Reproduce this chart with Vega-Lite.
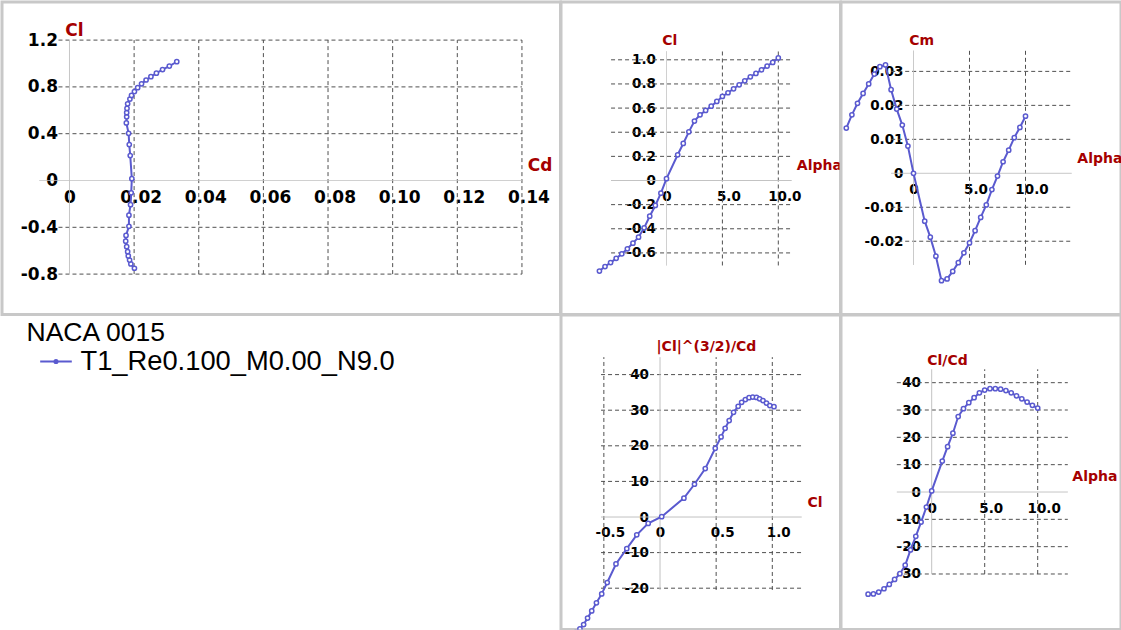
{
  "$schema": "https://vega.github.io/schema/vega-lite/v6.json",
  "background": "white",
  "padding": 0,
  "autosize": {"type": "pad"},
  "bounds": "flush",
  "spacing": 0,
  "columns": 3,
  "datasets": {
    "polar": [
      {"alpha": -6, "Cl": -0.75, "Cd": 0.0201, "Cm": 0.0133, "ClCd": -37.4, "Cl32Cd": -32.4, "polar": "T1_Re0.100_M0.00_N9.0"},
      {"alpha": -5.5, "Cl": -0.713, "Cd": 0.019, "Cm": 0.0172, "ClCd": -37.3, "Cl32Cd": -31.4, "polar": "T1_Re0.100_M0.00_N9.0"},
      {"alpha": -5, "Cl": -0.68, "Cd": 0.0186, "Cm": 0.0206, "ClCd": -36.6, "Cl32Cd": -30.2, "polar": "T1_Re0.100_M0.00_N9.0"},
      {"alpha": -4.5, "Cl": -0.645, "Cd": 0.0182, "Cm": 0.0235, "ClCd": -35.4, "Cl32Cd": -28.4, "polar": "T1_Re0.100_M0.00_N9.0"},
      {"alpha": -4, "Cl": -0.608, "Cd": 0.018, "Cm": 0.0263, "ClCd": -33.8, "Cl32Cd": -26.4, "polar": "T1_Re0.100_M0.00_N9.0"},
      {"alpha": -3.5, "Cl": -0.566, "Cd": 0.0177, "Cm": 0.0292, "ClCd": -32.0, "Cl32Cd": -24.1, "polar": "T1_Re0.100_M0.00_N9.0"},
      {"alpha": -3, "Cl": -0.519, "Cd": 0.0174, "Cm": 0.0314, "ClCd": -29.9, "Cl32Cd": -21.6, "polar": "T1_Re0.100_M0.00_N9.0"},
      {"alpha": -2.5, "Cl": -0.47, "Cd": 0.0175, "Cm": 0.0319, "ClCd": -26.8, "Cl32Cd": -18.4, "polar": "T1_Re0.100_M0.00_N9.0"},
      {"alpha": -2, "Cl": -0.392, "Cd": 0.0184, "Cm": 0.0246, "ClCd": -21.2, "Cl32Cd": -13.2, "polar": "T1_Re0.100_M0.00_N9.0"},
      {"alpha": -1.5, "Cl": -0.296, "Cd": 0.0184, "Cm": 0.0189, "ClCd": -16.2, "Cl32Cd": -8.9, "polar": "T1_Re0.100_M0.00_N9.0"},
      {"alpha": -1, "Cl": -0.207, "Cd": 0.0189, "Cm": 0.0142, "ClCd": -11.0, "Cl32Cd": -5.0, "polar": "T1_Re0.100_M0.00_N9.0"},
      {"alpha": -0.5, "Cl": -0.105, "Cd": 0.0191, "Cm": 0.008, "ClCd": -5.5, "Cl32Cd": -1.8, "polar": "T1_Re0.100_M0.00_N9.0"},
      {"alpha": 0, "Cl": 0.015, "Cd": 0.0193, "Cm": 0.0, "ClCd": 0.4, "Cl32Cd": 0.1, "polar": "T1_Re0.100_M0.00_N9.0"},
      {"alpha": 1, "Cl": 0.213, "Cd": 0.0188, "Cm": -0.0141, "ClCd": 11.3, "Cl32Cd": 5.3, "polar": "T1_Re0.100_M0.00_N9.0"},
      {"alpha": 1.5, "Cl": 0.307, "Cd": 0.0185, "Cm": -0.0188, "ClCd": 16.6, "Cl32Cd": 9.2, "polar": "T1_Re0.100_M0.00_N9.0"},
      {"alpha": 2, "Cl": 0.403, "Cd": 0.0183, "Cm": -0.0244, "ClCd": 21.5, "Cl32Cd": 13.6, "polar": "T1_Re0.100_M0.00_N9.0"},
      {"alpha": 2.5, "Cl": 0.492, "Cd": 0.0176, "Cm": -0.0316, "ClCd": 27.6, "Cl32Cd": 19.3, "polar": "T1_Re0.100_M0.00_N9.0"},
      {"alpha": 3, "Cl": 0.544, "Cd": 0.0177, "Cm": -0.0311, "ClCd": 30.5, "Cl32Cd": 22.5, "polar": "T1_Re0.100_M0.00_N9.0"},
      {"alpha": 3.5, "Cl": 0.58, "Cd": 0.0177, "Cm": -0.0289, "ClCd": 32.7, "Cl32Cd": 24.9, "polar": "T1_Re0.100_M0.00_N9.0"},
      {"alpha": 4, "Cl": 0.616, "Cd": 0.0178, "Cm": -0.0263, "ClCd": 34.5, "Cl32Cd": 27.1, "polar": "T1_Re0.100_M0.00_N9.0"},
      {"alpha": 4.5, "Cl": 0.655, "Cd": 0.018, "Cm": -0.0234, "ClCd": 36.3, "Cl32Cd": 29.4, "polar": "T1_Re0.100_M0.00_N9.0"},
      {"alpha": 5, "Cl": 0.696, "Cd": 0.0187, "Cm": -0.0205, "ClCd": 37.3, "Cl32Cd": 31.1, "polar": "T1_Re0.100_M0.00_N9.0"},
      {"alpha": 5.5, "Cl": 0.727, "Cd": 0.0192, "Cm": -0.0169, "ClCd": 37.8, "Cl32Cd": 32.2, "polar": "T1_Re0.100_M0.00_N9.0"},
      {"alpha": 6, "Cl": 0.76, "Cd": 0.0201, "Cm": -0.013, "ClCd": 37.8, "Cl32Cd": 33.0, "polar": "T1_Re0.100_M0.00_N9.0"},
      {"alpha": 6.5, "Cl": 0.793, "Cd": 0.0211, "Cm": -0.0093, "ClCd": 37.6, "Cl32Cd": 33.5, "polar": "T1_Re0.100_M0.00_N9.0"},
      {"alpha": 7, "Cl": 0.826, "Cd": 0.0223, "Cm": -0.0048, "ClCd": 37.1, "Cl32Cd": 33.7, "polar": "T1_Re0.100_M0.00_N9.0"},
      {"alpha": 7.5, "Cl": 0.859, "Cd": 0.0237, "Cm": -0.0008, "ClCd": 36.3, "Cl32Cd": 33.6, "polar": "T1_Re0.100_M0.00_N9.0"},
      {"alpha": 8, "Cl": 0.887, "Cd": 0.0252, "Cm": 0.0034, "ClCd": 35.2, "Cl32Cd": 33.2, "polar": "T1_Re0.100_M0.00_N9.0"},
      {"alpha": 8.5, "Cl": 0.917, "Cd": 0.0269, "Cm": 0.0068, "ClCd": 34.1, "Cl32Cd": 32.7, "polar": "T1_Re0.100_M0.00_N9.0"},
      {"alpha": 9, "Cl": 0.948, "Cd": 0.0288, "Cm": 0.0105, "ClCd": 32.9, "Cl32Cd": 32.0, "polar": "T1_Re0.100_M0.00_N9.0"},
      {"alpha": 9.5, "Cl": 0.978, "Cd": 0.0309, "Cm": 0.0135, "ClCd": 31.7, "Cl32Cd": 31.3, "polar": "T1_Re0.100_M0.00_N9.0"},
      {"alpha": 10, "Cl": 1.015, "Cd": 0.0332, "Cm": 0.0168, "ClCd": 30.7, "Cl32Cd": 31.0, "polar": "T1_Re0.100_M0.00_N9.0"}
    ],
    "g1": [
      {"x1": 0.02, "x2": 0.02, "y1": -0.8, "y2": 1.2, "kind": "grid"},
      {"x1": 0.04, "x2": 0.04, "y1": -0.8, "y2": 1.2, "kind": "grid"},
      {"x1": 0.06, "x2": 0.06, "y1": -0.8, "y2": 1.2, "kind": "grid"},
      {"x1": 0.08, "x2": 0.08, "y1": -0.8, "y2": 1.2, "kind": "grid"},
      {"x1": 0.10, "x2": 0.10, "y1": -0.8, "y2": 1.2, "kind": "grid"},
      {"x1": 0.12, "x2": 0.12, "y1": -0.8, "y2": 1.2, "kind": "grid"},
      {"x1": 0.14, "x2": 0.14, "y1": -0.8, "y2": 1.2, "kind": "grid"},
      {"x1": -0.0034, "x2": 0.14, "y1": -0.8, "y2": -0.8, "kind": "grid"},
      {"x1": -0.0034, "x2": 0.14, "y1": -0.4, "y2": -0.4, "kind": "grid"},
      {"x1": -0.0034, "x2": 0.14, "y1": 0.4, "y2": 0.4, "kind": "grid"},
      {"x1": -0.0034, "x2": 0.14, "y1": 0.8, "y2": 0.8, "kind": "grid"},
      {"x1": -0.0034, "x2": 0.14, "y1": 1.2, "y2": 1.2, "kind": "grid"},
      {"x1": 0, "x2": 0, "y1": -0.8, "y2": 1.2, "kind": "axis"},
      {"x1": -0.0093, "x2": 0.14, "y1": 0, "y2": 0, "kind": "axis"}
    ],
    "g2": [
      {"x1": 5, "x2": 5, "y1": -0.704, "y2": 1.071, "kind": "grid"},
      {"x1": 10, "x2": 10, "y1": -0.704, "y2": 1.071, "kind": "grid"},
      {"x1": -4.96, "x2": 11.2, "y1": -0.6, "y2": -0.6, "kind": "grid"},
      {"x1": -4.96, "x2": 11.2, "y1": -0.4, "y2": -0.4, "kind": "grid"},
      {"x1": -4.96, "x2": 11.2, "y1": -0.2, "y2": -0.2, "kind": "grid"},
      {"x1": -4.96, "x2": 11.2, "y1": 0.2, "y2": 0.2, "kind": "grid"},
      {"x1": -4.96, "x2": 11.2, "y1": 0.4, "y2": 0.4, "kind": "grid"},
      {"x1": -4.96, "x2": 11.2, "y1": 0.6, "y2": 0.6, "kind": "grid"},
      {"x1": -4.96, "x2": 11.2, "y1": 0.8, "y2": 0.8, "kind": "grid"},
      {"x1": -4.96, "x2": 11.2, "y1": 1.0, "y2": 1.0, "kind": "grid"},
      {"x1": 0, "x2": 0, "y1": -0.704, "y2": 1.071, "kind": "axis"},
      {"x1": -4.96, "x2": 11.2, "y1": 0, "y2": 0, "kind": "axis"}
    ],
    "g3": [
      {"x1": 5, "x2": 5, "y1": -0.02694, "y2": 0.03615, "kind": "grid"},
      {"x1": 10, "x2": 10, "y1": -0.02694, "y2": 0.03615, "kind": "grid"},
      {"x1": -1.99, "x2": 14.13, "y1": -0.02, "y2": -0.02, "kind": "grid"},
      {"x1": -1.99, "x2": 14.13, "y1": -0.01, "y2": -0.01, "kind": "grid"},
      {"x1": -1.99, "x2": 14.13, "y1": 0.01, "y2": 0.01, "kind": "grid"},
      {"x1": -1.99, "x2": 14.13, "y1": 0.02, "y2": 0.02, "kind": "grid"},
      {"x1": -1.99, "x2": 14.13, "y1": 0.03, "y2": 0.03, "kind": "grid"},
      {"x1": 0, "x2": 0, "y1": -0.02694, "y2": 0.03615, "kind": "axis"},
      {"x1": -1.99, "x2": 14.13, "y1": 0, "y2": 0, "kind": "axis"}
    ],
    "g4": [
      {"x1": -0.5, "x2": -0.5, "y1": -20.5, "y2": 44.9, "kind": "grid"},
      {"x1": 0.5, "x2": 0.5, "y1": -20.5, "y2": 44.9, "kind": "grid"},
      {"x1": 1.0, "x2": 1.0, "y1": -20.5, "y2": 44.9, "kind": "grid"},
      {"x1": -0.525, "x2": 1.262, "y1": -20, "y2": -20, "kind": "grid"},
      {"x1": -0.525, "x2": 1.262, "y1": -10, "y2": -10, "kind": "grid"},
      {"x1": -0.525, "x2": 1.262, "y1": 10, "y2": 10, "kind": "grid"},
      {"x1": -0.525, "x2": 1.262, "y1": 20, "y2": 20, "kind": "grid"},
      {"x1": -0.525, "x2": 1.262, "y1": 30, "y2": 30, "kind": "grid"},
      {"x1": -0.525, "x2": 1.262, "y1": 40, "y2": 40, "kind": "grid"},
      {"x1": 0, "x2": 0, "y1": -20.5, "y2": 44.9, "kind": "axis"},
      {"x1": -0.525, "x2": 1.262, "y1": 0, "y2": 0, "kind": "axis"}
    ],
    "g5": [
      {"x1": 5, "x2": 5, "y1": -30, "y2": 44.9, "kind": "grid"},
      {"x1": 10, "x2": 10, "y1": -30, "y2": 44.9, "kind": "grid"},
      {"x1": -3.29, "x2": 12.84, "y1": -30, "y2": -30, "kind": "grid"},
      {"x1": -3.29, "x2": 12.84, "y1": -20, "y2": -20, "kind": "grid"},
      {"x1": -3.29, "x2": 12.84, "y1": -10, "y2": -10, "kind": "grid"},
      {"x1": -3.29, "x2": 12.84, "y1": 10, "y2": 10, "kind": "grid"},
      {"x1": -3.29, "x2": 12.84, "y1": 20, "y2": 20, "kind": "grid"},
      {"x1": -3.29, "x2": 12.84, "y1": 30, "y2": 30, "kind": "grid"},
      {"x1": -3.29, "x2": 12.84, "y1": 40, "y2": 40, "kind": "grid"},
      {"x1": 0, "x2": 0, "y1": -30, "y2": 44.9, "kind": "axis"},
      {"x1": -3.29, "x2": 12.84, "y1": 0, "y2": 0, "kind": "axis"}
    ]
  },
  "concat": [
    {
      "width": 558.5,
      "height": 312.5,
      "view": {"stroke": "#c8c8c8", "strokeWidth": 3},
      "layer": [
        {
          "data": {"name": "g1"},
          "mark": {"type": "rule", "strokeWidth": 1},
          "encoding": {
            "x": {"field": "x1", "type": "quantitative", "scale": {"domain": [-0.020876, 0.151928], "nice": false, "zero": false},
              "axis": {"values": [0, 0.02, 0.04, 0.06, 0.08, 0.1, 0.12, 0.14], "labelOverlap": false, "labelExpr": "datum.value === 0 ? '0' : format(datum.value, '.2f')", "offset": -134, "labelFontSize": 17, "labelAlign": "center", "labelBaseline": "middle", "labelPadding": 16.7, "labelOffset": {"condition": {"test": "datum.value === 0", "value": 0}, "value": 6.5}, "title": "Cd", "titleFontSize": 17, "titleAngle": 0, "titleAlign": "left", "titleBaseline": "alphabetic", "titleX": 525.3, "titleY": -10}},
            "x2": {"field": "x2"},
            "y": {"field": "y1", "type": "quantitative", "scale": {"domain": [-1.145299, 1.525641], "nice": false, "zero": false},
              "axis": {"values": [-0.8, -0.4, 0, 0.4, 0.8, 1.2], "labelOverlap": false, "labelExpr": "datum.value === 0 ? '0' : (datum.value < 0 ? '-' : '') + format(abs(datum.value), '.1f')", "offset": -67.47, "labelFontSize": 17, "labelAlign": "right", "labelBaseline": "middle", "labelPadding": 12, "title": "Cl", "titleFontSize": 17, "titleAngle": 0, "titleAlign": "left", "titleBaseline": "alphabetic", "titleX": -4.7, "titleY": 33.5}},
            "y2": {"field": "y2"},
            "stroke": {"condition": {"test": "datum.kind === 'axis'", "value": "#c0c0c0"}, "value": "#505050"},
            "strokeDash": {"condition": {"test": "datum.kind === 'axis'", "value": [1, 0]}, "value": [4, 3]}
          }
        },
        {
          "data": {"name": "polar"},
          "mark": {"type": "line", "strokeWidth": 2},
          "encoding": {
            "x": {"field": "Cd", "type": "quantitative", "scale": {"domain": [-0.020876, 0.151928], "nice": false, "zero": false}},
            "y": {"field": "Cl", "type": "quantitative", "scale": {"domain": [-1.145299, 1.525641], "nice": false, "zero": false}},
            "order": {"field": "alpha", "type": "quantitative"},
            "color": {"field": "polar", "type": "nominal", "scale": {"range": ["#5a5acf"]},
              "legend": {"title": "NACA 0015", "orient": "none", "legendX": 24.5, "legendY": 318, "titleFont": "Liberation Sans", "titleFontSize": 26.5, "titleFontWeight": "normal", "titleColor": "#000000", "titlePadding": -2, "labelFont": "Liberation Sans", "labelFontSize": 27.3, "labelColor": "#000000", "labelLimit": 1000, "symbolType": "M-1,0L1,0M-0.1,0A0.1,0.1,0,1,1,0.1,0A0.1,0.1,0,1,1,-0.1,0", "symbolSize": 1000, "symbolStrokeWidth": 2, "symbolOffset": 12.5, "labelOffset": 7.5}}
          }
        },
        {
          "data": {"name": "polar"},
          "mark": {"type": "point", "shape": "circle", "filled": true, "fill": "white", "stroke": "#5a5acf", "strokeWidth": 1.5, "size": 18, "opacity": 1},
          "encoding": {
            "x": {"field": "Cd", "type": "quantitative", "scale": {"domain": [-0.020876, 0.151928], "nice": false, "zero": false}},
            "y": {"field": "Cl", "type": "quantitative", "scale": {"domain": [-1.145299, 1.525641], "nice": false, "zero": false}}
          }
        }
      ]
    },
    {
      "width": 279.5,
      "height": 312.5,
      "view": {"stroke": "#c8c8c8", "strokeWidth": 3},
      "resolve": {"axis": {"y": "independent"}},
      "layer": [
        {
          "data": {"name": "g2"},
          "mark": {"type": "rule", "strokeWidth": 1},
          "encoding": {
            "x": {"field": "x1", "type": "quantitative", "scale": {"domain": [-9.43649, 15.56351], "nice": false, "zero": false},
              "axis": {"values": [0, 5, 10], "labelOverlap": false, "labelExpr": "datum.value === 0 ? '0' : format(datum.value, '.1f')", "offset": -134, "labelAlign": "center", "labelBaseline": "middle", "labelPadding": 16, "labelOffset": {"condition": {"test": "datum.value === 0", "value": 0}, "value": 6}, "title": "Alpha", "titleAngle": 0, "titleAlign": "left", "titleBaseline": "alphabetic", "titleX": 235.3, "titleY": -11}},
            "x2": {"field": "x2"},
            "y": {"field": "y1", "type": "quantitative", "scale": {"domain": [-1.110191, 1.478873], "nice": false, "zero": false},
              "axis": {"orient": "left", "values": [-0.6, -0.2, 0.2, 0.6, 1.0], "labelOverlap": false, "labelExpr": "(datum.value < 0 ? '-' : '') + format(abs(datum.value), '.1f')", "offset": -105.5, "labelAlign": "right", "labelBaseline": "middle", "labelPadding": 11, "title": "Cl", "titleAngle": 0, "titleAlign": "left", "titleBaseline": "alphabetic", "titleX": -4.8, "titleY": 42.8}},
            "y2": {"field": "y2"},
            "stroke": {"condition": {"test": "datum.kind === 'axis'", "value": "#c0c0c0"}, "value": "#505050"},
            "strokeDash": {"condition": {"test": "datum.kind === 'axis'", "value": [1, 0]}, "value": [4, 3]}
          }
        },
        {
          "data": {"name": "polar"},
          "mark": {"type": "line", "strokeWidth": 2, "color": "#5a5acf"},
          "encoding": {
            "x": {"field": "alpha", "type": "quantitative", "scale": {"domain": [-9.43649, 15.56351], "nice": false, "zero": false}},
            "y": {"field": "Cl", "type": "quantitative", "scale": {"domain": [-1.110191, 1.478873], "nice": false, "zero": false},
              "axis": {"orient": "left", "values": [-0.4, 0, 0.4, 0.8], "labelOverlap": false, "labelExpr": "datum.value === 0 ? '0' : (datum.value < 0 ? '-' : '') + format(abs(datum.value), '.1f')", "offset": -105.5, "labelAlign": "right", "labelBaseline": "middle", "labelPadding": 11, "title": null}},
            "order": {"field": "alpha", "type": "quantitative"}
          }
        },
        {
          "data": {"name": "polar"},
          "mark": {"type": "point", "shape": "circle", "filled": true, "fill": "white", "stroke": "#5a5acf", "strokeWidth": 1.5, "size": 18, "opacity": 1},
          "encoding": {
            "x": {"field": "alpha", "type": "quantitative", "scale": {"domain": [-9.43649, 15.56351], "nice": false, "zero": false}},
            "y": {"field": "Cl", "type": "quantitative", "scale": {"domain": [-1.110191, 1.478873], "nice": false, "zero": false}, "axis": null}
          }
        }
      ]
    },
    {
      "width": 280,
      "height": 312.5,
      "view": {"stroke": "#c8c8c8", "strokeWidth": 3},
      "layer": [
        {
          "data": {"name": "g3"},
          "mark": {"type": "rule", "strokeWidth": 1},
          "encoding": {
            "x": {"field": "x1", "type": "quantitative", "scale": {"domain": [-6.47321, 18.52679], "nice": false, "zero": false},
              "axis": {"values": [0, 5, 10], "labelOverlap": false, "labelExpr": "datum.value === 0 ? '0' : format(datum.value, '.1f')", "offset": -141.2, "labelAlign": "center", "labelBaseline": "middle", "labelPadding": 16, "labelOffset": {"condition": {"test": "datum.value === 0", "value": 0}, "value": 6}, "title": "Alpha", "titleAngle": 0, "titleAlign": "left", "titleBaseline": "alphabetic", "titleX": 235.8, "titleY": -11}},
            "x2": {"field": "x2"},
            "y": {"field": "y1", "type": "quantitative", "scale": {"domain": [-0.041566, 0.050427], "nice": false, "zero": false},
              "axis": {"values": [-0.02, -0.01, 0, 0.01, 0.02, 0.03], "labelOverlap": false, "labelExpr": "datum.value === 0 ? '0' : (datum.value < 0 ? '-' : '') + format(abs(datum.value), '.2f')", "offset": -72.5, "labelAlign": "right", "labelBaseline": "middle", "labelPadding": 10.5, "title": "Cm", "titleAngle": 0, "titleAlign": "left", "titleBaseline": "alphabetic", "titleX": -4.7, "titleY": 42.8}},
            "y2": {"field": "y2"},
            "stroke": {"condition": {"test": "datum.kind === 'axis'", "value": "#c0c0c0"}, "value": "#505050"},
            "strokeDash": {"condition": {"test": "datum.kind === 'axis'", "value": [1, 0]}, "value": [4, 3]}
          }
        },
        {
          "data": {"name": "polar"},
          "mark": {"type": "line", "strokeWidth": 2, "color": "#5a5acf"},
          "encoding": {
            "x": {"field": "alpha", "type": "quantitative", "scale": {"domain": [-6.47321, 18.52679], "nice": false, "zero": false}},
            "y": {"field": "Cm", "type": "quantitative", "scale": {"domain": [-0.041566, 0.050427], "nice": false, "zero": false}},
            "order": {"field": "alpha", "type": "quantitative"}
          }
        },
        {
          "data": {"name": "polar"},
          "mark": {"type": "point", "shape": "circle", "filled": true, "fill": "white", "stroke": "#5a5acf", "strokeWidth": 1.5, "size": 18, "opacity": 1},
          "encoding": {
            "x": {"field": "alpha", "type": "quantitative", "scale": {"domain": [-6.47321, 18.52679], "nice": false, "zero": false}},
            "y": {"field": "Cm", "type": "quantitative", "scale": {"domain": [-0.041566, 0.050427], "nice": false, "zero": false}}
          }
        }
      ]
    },
    {
      "width": 558.5,
      "height": 314.5,
      "view": {"stroke": null},
      "data": {"values": []},
      "mark": "point"
    },
    {
      "width": 279.5,
      "height": 314.5,
      "view": {"stroke": "#c8c8c8", "strokeWidth": 3},
      "layer": [
        {
          "data": {"name": "g4"},
          "mark": {"type": "rule", "strokeWidth": 1},
          "encoding": {
            "x": {"field": "x1", "type": "quantitative", "scale": {"domain": [-0.881567, 1.607302], "nice": false, "zero": false},
              "axis": {"values": [-0.5, 0, 0.5, 1.0], "labelOverlap": false, "labelExpr": "datum.value === 0 ? '0' : (datum.value < 0 ? '-' : '') + format(abs(datum.value), '.1f')", "offset": -112.5, "labelAlign": "center", "labelBaseline": "middle", "labelPadding": 15.3, "labelOffset": {"condition": {"test": "datum.value === 0", "value": 0}, "value": 6}, "title": "Cl", "titleAngle": 0, "titleAlign": "left", "titleBaseline": "alphabetic", "titleX": 246, "titleY": -10.3}},
            "x2": {"field": "x2"},
            "y": {"field": "y1", "type": "quantitative", "scale": {"domain": [-31.6011, 56.7416], "nice": false, "zero": false},
              "axis": {"values": [-20, -10, 0, 10, 20, 30, 40], "labelOverlap": false, "labelExpr": "datum.value === 0 ? '0' : (datum.value < 0 ? '-' : '') + format(abs(datum.value), 'd')", "offset": -99, "labelAlign": "right", "labelBaseline": "middle", "labelPadding": 11.5, "title": "|Cl|^(3/2)/Cd", "titleAngle": 0, "titleAlign": "left", "titleBaseline": "alphabetic", "titleX": -4, "titleY": 35.3}},
            "y2": {"field": "y2"},
            "stroke": {"condition": {"test": "datum.kind === 'axis'", "value": "#c0c0c0"}, "value": "#505050"},
            "strokeDash": {"condition": {"test": "datum.kind === 'axis'", "value": [1, 0]}, "value": [4, 3]}
          }
        },
        {
          "data": {"name": "polar"},
          "mark": {"type": "line", "strokeWidth": 2, "color": "#5a5acf", "clip": true},
          "encoding": {
            "x": {"field": "Cl", "type": "quantitative", "scale": {"domain": [-0.881567, 1.607302], "nice": false, "zero": false}},
            "y": {"field": "Cl32Cd", "type": "quantitative", "scale": {"domain": [-31.6011, 56.7416], "nice": false, "zero": false}},
            "order": {"field": "alpha", "type": "quantitative"}
          }
        },
        {
          "data": {"name": "polar"},
          "mark": {"type": "point", "shape": "circle", "filled": true, "fill": "white", "stroke": "#5a5acf", "strokeWidth": 1.5, "size": 18, "opacity": 1, "clip": true},
          "encoding": {
            "x": {"field": "Cl", "type": "quantitative", "scale": {"domain": [-0.881567, 1.607302], "nice": false, "zero": false}},
            "y": {"field": "Cl32Cd", "type": "quantitative", "scale": {"domain": [-31.6011, 56.7416], "nice": false, "zero": false}}
          }
        }
      ]
    },
    {
      "width": 280,
      "height": 314.5,
      "view": {"stroke": "#c8c8c8", "strokeWidth": 3},
      "layer": [
        {
          "data": {"name": "g5"},
          "mark": {"type": "rule", "strokeWidth": 1},
          "encoding": {
            "x": {"field": "x1", "type": "quantitative", "scale": {"domain": [-8.5566, 17.85849], "nice": false, "zero": false},
              "axis": {"values": [0, 5, 10], "labelOverlap": false, "labelExpr": "datum.value === 0 ? '0' : format(datum.value, '.1f')", "offset": -137.5, "labelAlign": "center", "labelBaseline": "middle", "labelPadding": 16, "labelOffset": {"condition": {"test": "datum.value === 0", "value": 0}, "value": 6}, "title": "Alpha", "titleAngle": 0, "titleAlign": "left", "titleBaseline": "alphabetic", "titleX": 230.8, "titleY": -12}},
            "x2": {"field": "x2"},
            "y": {"field": "y1", "type": "quantitative", "scale": {"domain": [-50.311, 64.764], "nice": false, "zero": false},
              "axis": {"values": [-30, -20, -10, 0, 10, 20, 30, 40], "labelOverlap": false, "labelExpr": "datum.value === 0 ? '0' : (datum.value < 0 ? '-' : '') + format(abs(datum.value), 'd')", "offset": -90.7, "labelAlign": "right", "labelBaseline": "middle", "labelPadding": 11.2, "title": "Cl/Cd", "titleAngle": 0, "titleAlign": "left", "titleBaseline": "alphabetic", "titleX": -4.9, "titleY": 49.5}},
            "y2": {"field": "y2"},
            "stroke": {"condition": {"test": "datum.kind === 'axis'", "value": "#c0c0c0"}, "value": "#505050"},
            "strokeDash": {"condition": {"test": "datum.kind === 'axis'", "value": [1, 0]}, "value": [4, 3]}
          }
        },
        {
          "data": {"name": "polar"},
          "mark": {"type": "line", "strokeWidth": 2, "color": "#5a5acf"},
          "encoding": {
            "x": {"field": "alpha", "type": "quantitative", "scale": {"domain": [-8.5566, 17.85849], "nice": false, "zero": false}},
            "y": {"field": "ClCd", "type": "quantitative", "scale": {"domain": [-50.311, 64.764], "nice": false, "zero": false}},
            "order": {"field": "alpha", "type": "quantitative"}
          }
        },
        {
          "data": {"name": "polar"},
          "mark": {"type": "point", "shape": "circle", "filled": true, "fill": "white", "stroke": "#5a5acf", "strokeWidth": 1.5, "size": 18, "opacity": 1},
          "encoding": {
            "x": {"field": "alpha", "type": "quantitative", "scale": {"domain": [-8.5566, 17.85849], "nice": false, "zero": false}},
            "y": {"field": "ClCd", "type": "quantitative", "scale": {"domain": [-50.311, 64.764], "nice": false, "zero": false}}
          }
        }
      ]
    }
  ],
  "config": {
    "axis": {
      "domain": false,
      "ticks": false,
      "tickSize": 0,
      "grid": false,
      "labelOverlap": false,
      "labelBound": false,
      "labelFlush": false,
      "labelFont": "DejaVu Sans",
      "labelFontWeight": "bold",
      "labelColor": "#000000",
      "labelFontSize": 13.5,
      "titleFont": "DejaVu Sans",
      "titleFontWeight": "bold",
      "titleColor": "#a50000",
      "titleFontSize": 14,
      "titlePadding": 0
    }
  }
}
